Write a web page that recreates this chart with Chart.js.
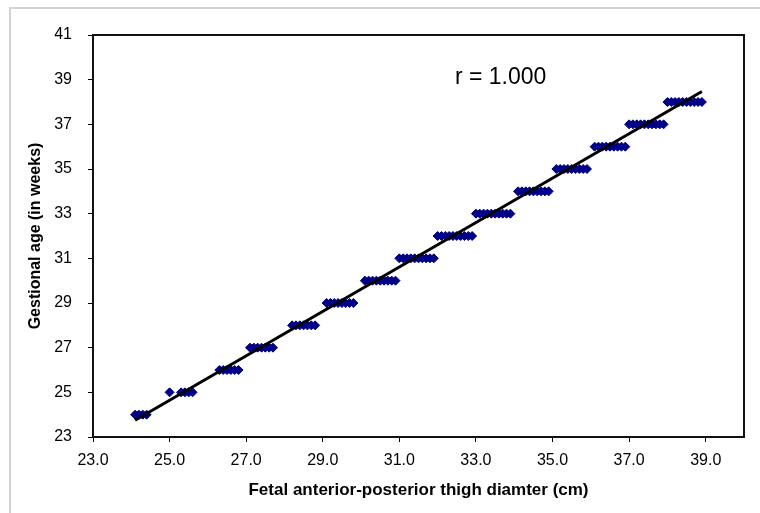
<!DOCTYPE html>
<html>
<head>
<meta charset="utf-8">
<script src="https://cdn.jsdelivr.net/npm/chart.js@4/dist/chart.umd.min.js"></script>
<style>
html,body{margin:0;padding:0;background:#fff;}
#wrap{width:760px;height:513px;position:relative;}
</style>
</head>
<body>
<div id="wrap"><canvas id="c" width="760" height="513"></canvas></div>
<script>
// Fetal anterior-posterior thigh diameter (cm)
const thighDiameter = [
  24.1, 24.2, 24.3, 24.4,
  25.0, 25.3, 25.4, 25.5, 25.6,
  26.3, 26.4, 26.5, 26.6, 26.7, 26.8,
  27.1, 27.2, 27.3, 27.4, 27.5, 27.6, 27.7,
  28.2, 28.3, 28.4, 28.5, 28.6, 28.7, 28.8,
  29.1, 29.2, 29.3, 29.4, 29.5, 29.6, 29.7, 29.8,
  30.1, 30.2, 30.3, 30.4, 30.5, 30.6, 30.7, 30.8, 30.9,
  31.0, 31.1, 31.2, 31.3, 31.4, 31.5, 31.6, 31.7, 31.8, 31.9,
  32.0, 32.1, 32.2, 32.3, 32.4, 32.5, 32.6, 32.7, 32.8, 32.9,
  33.0, 33.1, 33.2, 33.3, 33.4, 33.5, 33.6, 33.7, 33.8, 33.9,
  34.1, 34.2, 34.3, 34.4, 34.5, 34.6, 34.7, 34.8, 34.9,
  35.1, 35.2, 35.3, 35.4, 35.5, 35.6, 35.7, 35.8, 35.9,
  36.1, 36.2, 36.3, 36.4, 36.5, 36.6, 36.7, 36.8, 36.9,
  37.0, 37.1, 37.2, 37.3, 37.4, 37.5, 37.6, 37.7, 37.8, 37.9,
  38.0, 38.1, 38.2, 38.3, 38.4, 38.5, 38.6, 38.7, 38.8, 38.9
];
// Gestational age (weeks) for each point above
const gestationalAge = [
  24, 24, 24, 24,
  25, 25, 25, 25, 25,
  26, 26, 26, 26, 26, 26,
  27, 27, 27, 27, 27, 27, 27,
  28, 28, 28, 28, 28, 28, 28,
  29, 29, 29, 29, 29, 29, 29, 29,
  30, 30, 30, 30, 30, 30, 30, 30, 30,
  31, 31, 31, 31, 31, 31, 31, 31, 31, 31,
  32, 32, 32, 32, 32, 32, 32, 32, 32, 32,
  33, 33, 33, 33, 33, 33, 33, 33, 33, 33,
  34, 34, 34, 34, 34, 34, 34, 34, 34,
  35, 35, 35, 35, 35, 35, 35, 35, 35,
  36, 36, 36, 36, 36, 36, 36, 36, 36,
  37, 37, 37, 37, 37, 37, 37, 37, 37, 37,
  38, 38, 38, 38, 38, 38, 38, 38, 38, 38
];
// Regression line end points
const trendX = [24.1, 38.9];
const trendY = [23.75, 38.47];
const xTicks = [23, 25, 27, 29, 31, 33, 35, 37, 39];
const yTicks = [23, 25, 27, 29, 31, 33, 35, 37, 39, 41];
const rLabel = 'r = 1.000';

const FONT = 'Arial, "Liberation Sans", sans-serif';

const scatterPts = thighDiameter.map((x, i) => ({x: x, y: gestationalAge[i]}));
const trendPts = trendX.map((x, i) => ({x: x, y: trendY[i]}));

const decor = {
  id: 'decor',
  beforeDraw(chart) {
    const ctx = chart.ctx;
    ctx.save();
    ctx.fillStyle = '#fff';
    ctx.fillRect(0, 0, chart.width, chart.height);
    ctx.strokeStyle = '#d4d4d4';
    ctx.lineWidth = 2;
    ctx.strokeRect(10, 8, chart.width + 10, chart.height + 10);
    ctx.restore();
  },
  afterDatasetsDraw(chart) {
    const ctx = chart.ctx;
    const a = chart.chartArea;
    ctx.save();
    ctx.strokeStyle = '#111';
    ctx.lineWidth = 2;
    ctx.strokeRect(a.left, a.top, a.right - a.left, a.bottom - a.top);
    const xs = chart.scales.x, ys = chart.scales.y;
    ctx.fillStyle = '#000';
    ctx.font = '23px ' + FONT;
    ctx.textAlign = 'left';
    ctx.textBaseline = 'middle';
    ctx.fillText(rLabel, xs.getPixelForValue(32.45), ys.getPixelForValue(39.1));
    ctx.restore();
  }
};

new Chart(document.getElementById('c'), {
  type: 'scatter',
  data: {
    datasets: [
      {
        type: 'line',
        data: trendPts,
        borderColor: '#000',
        borderWidth: 3,
        pointRadius: 0,
        fill: false,
        tension: 0,
        order: 0
      },
      {
        data: scatterPts,
        pointStyle: 'rectRot',
        pointRadius: 4.5,
        pointBackgroundColor: '#00008b',
        pointBorderColor: '#000080',
        pointBorderWidth: 1,
        order: 1
      }
    ]
  },
  options: {
    responsive: false,
    animation: false,
    devicePixelRatio: 1,
    layout: {padding: {top: 35, right: 16, left: 0, bottom: 0}},
    plugins: {legend: {display: false}, tooltip: {enabled: false}},
    scales: {
      x: {
        type: 'linear',
        min: 23, max: 40,
        afterBuildTicks(s) { s.ticks = xTicks.map(v => ({value: v})); },
        afterFit(s) { s.height = 76; },
        grid: {display: true, drawOnChartArea: false, drawTicks: true, tickLength: 5, color: '#000', lineWidth: 1},
        border: {display: true, color: '#000', width: 2},
        ticks: {
          color: '#000',
          font: {family: FONT, size: 16},
          padding: 9,
          maxRotation: 0,
          callback: v => Number(v).toFixed(1)
        },
        title: {
          display: true,
          text: 'Fetal anterior-posterior thigh diamter (cm)',
          color: '#000',
          font: {family: FONT, size: 17, weight: 'bold'},
          padding: {top: 0, bottom: 12}
        }
      },
      y: {
        type: 'linear',
        min: 23, max: 41,
        afterBuildTicks(s) { s.ticks = yTicks.map(v => ({value: v})); },
        afterFit(s) { s.width = 93; },
        grid: {display: true, drawOnChartArea: false, drawTicks: true, tickLength: 5, color: '#000', lineWidth: 1},
        border: {display: true, color: '#000', width: 2},
        ticks: {
          color: '#000',
          font: {family: FONT, size: 16},
          padding: 16
        },
        title: {
          display: true,
          text: 'Gestional age (in weeks)',
          color: '#000',
          font: {family: FONT, size: 16, weight: 'bold'},
          padding: {top: 26, bottom: 0}
        }
      }
    }
  },
  plugins: [decor]
});
</script>
</body>
</html>
